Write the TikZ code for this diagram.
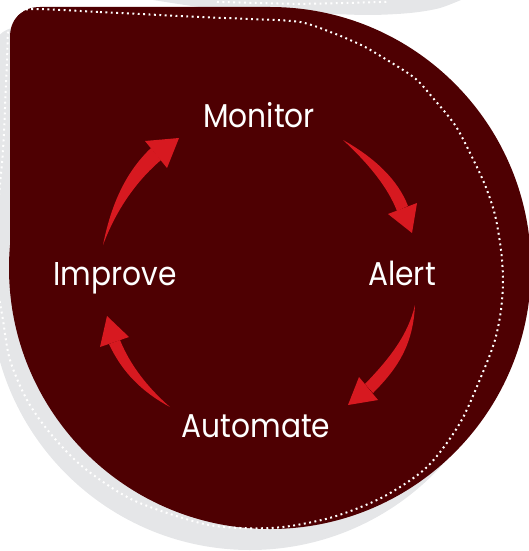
\documentclass[tikz,border=0pt]{standalone}
\usepackage{fontspec}
\setmainfont{Poppins}
\newfontfamily\lblfont{Poppins}[FakeStretch=0.9]
\definecolor{maroonbg}{RGB}{78,0,2}
\definecolor{arrowred}{RGB}{215,25,32}
\definecolor{shadowgrey}{RGB}{229,230,232}
\begin{document}
\begin{tikzpicture}[x=1pt,y=-1pt,
  lbl/.style={text=white, font=\lblfont\fontsize{33}{36}\selectfont, anchor=base, inner sep=0pt},
  dots/.style={draw=white, line width=2pt, dash pattern=on 1.9pt off 3.5pt},
  arr/.style={fill=arrowred}]
\clip (0,0) rectangle (529,551);
% top grey bubble (neighbouring shape)
\fill[shadowgrey] plot[smooth] coordinates {(135,-3) (200,7) (260,11) (320,13.5) (370,15) (410,13) (440,8) (468,-3)} -- cycle;
\draw[dots] plot[smooth] coordinates {(217,1.8) (300,3.8) (387,1.8)};
% grey shadow
\fill[shadowgrey] (250,290) circle[radius=260pt];
\fill[shadowgrey] (250,290) -- (-10,290) -- (-10,57) .. controls (-10,40) and (3,27) .. (20,27) -- (250,27) -- cycle;
% maroon teardrop
\fill[maroonbg] (270,268) circle[radius=261pt];
\fill[maroonbg] (270,268) -- (10,268) -- (10,37) .. controls (10,19) and (22,7) .. (40,7) -- (270,7) -- cycle;
% dotted outline
\draw[dots] plot[smooth cycle, tension=0.5] coordinates {
 (35,9) (100,12) (200,17) (250,19) (300,22) (333,33) (350,40) (367,48) (400,68) (417,80) (433,98)
 (455,125) (471,155) (485,185) (495,215) (501,250) (503,280) (501,310) (495,340) (483,372) (460,423)
 (427,467) (383,497) (333,517) (283,527) (240,528) (200,523) (133,500) (83,467) (50,433) (27,400)
 (10,360) (3,320) (-3,280) (-3,220) (3,150) (7,60) (9,25) (20,12)};
% labels
\node[lbl] (monitor) at (259,127) {Monitor};
\node[lbl] (alert) at (402,285) {Alert};
\node[lbl] (automate) at (256,437) {Automate};
\node[lbl] (improve) at (115,285) {Improve};
% arrows
\fill[arr] (103,245) .. controls (112,200) and (128,170) .. (151,148) -- (161,160) .. controls (140,178) and (118,205) .. (103,245) -- cycle;
\fill[arr] (145,141) -- (179,138) -- (167,168) -- cycle;
\fill[arr] (343,140) .. controls (375,158) and (398,180) .. (408,206) -- (397,211) .. controls (388,188) and (370,165) .. (343,140) -- cycle;
\fill[arr] (388,214) -- (417,203) -- (412,233) -- cycle;
\fill[arr] (415,305) .. controls (413,345) and (398,368) .. (373,393) -- (365,384) .. controls (390,358) and (408,335) .. (415,305) -- cycle;
\fill[arr] (359,377) -- (378,400) -- (348,405) -- cycle;
\fill[arr] (170,407) .. controls (142,392) and (122,372) .. (109,344) -- (120,340) .. controls (130,365) and (148,388) .. (170,407) -- cycle;
\fill[arr] (100,347) -- (129,337) -- (107,316) -- cycle;
\end{tikzpicture}
\end{document}
